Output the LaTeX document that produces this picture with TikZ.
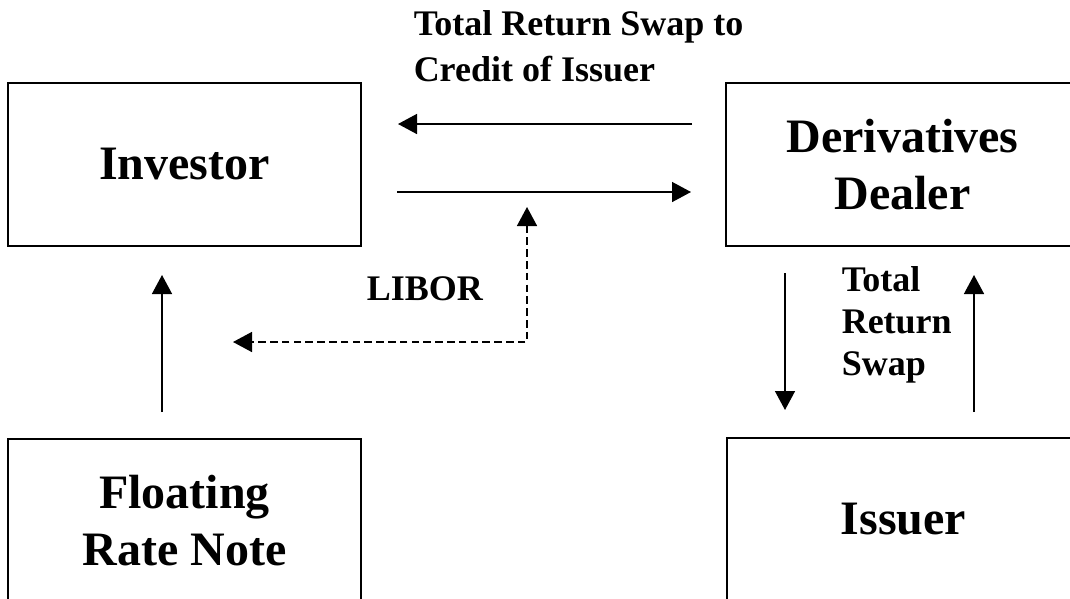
\documentclass[tikz,border=0pt]{standalone}
\usepackage{fontspec}
\setmainfont{Liberation Serif}
\usetikzlibrary{arrows.meta}
\tikzset{party/.style={rectangle,draw,line width=1.5pt,minimum width=353pt,minimum height=163pt,inner sep=0pt,align=center,font=\bfseries\fontsize{48}{57}\selectfont}}
\tikzset{flowlbl/.style={inner sep=0pt,align=left,anchor=base west}}

\begin{document}
\begin{tikzpicture}[x=1pt,y=-1pt,>={Triangle[length=19pt,width=20pt]},line width=1.5pt]
    \clip (0,0) rectangle (1070,598);
    \node[party] (inv) at (184.5,164.5) {Investor};
    \node[party] (dlr) at (902.5,164.5) {Derivatives\\Dealer};
    \node[party] (frn) at (184.5,520.5) {Floating\\Rate Note};
    \node[party] (iss) at (903.5,519.5) {Issuer};

    % base of a multi-line label is its last line
    \node[flowlbl,font=\bfseries\fontsize{36}{46}\selectfont] (trsc) at (413,81) {Total Return Swap to\\Credit of Issuer};
    \node[flowlbl,font=\bfseries\fontsize{36}{42}\selectfont] (trs) at (841,375) {Total\\Return\\Swap};
    \node[flowlbl,font=\bfseries\fontsize{36}{42}\selectfont] (libor) at (366,300) {LIBOR};

    \coordinate (dlrout) at (692,124);
    \coordinate (invin) at (398,124);
    \coordinate (invout) at (397,192);
    \coordinate (dlrin) at (691,192);
    \coordinate (frnout) at (162,412);
    \coordinate (invup) at (162,275);
    \coordinate (dlrdown) at (785,273);
    \coordinate (issin) at (785,410);
    \coordinate (issout) at (974,412);
    \coordinate (dlrup) at (974,275);
    \coordinate (libtop) at (527,207);
    \coordinate (libcorner) at (527,342);
    \coordinate (libleft) at (233,342);

    \draw [->] (dlrout) to [] (invin);
    \draw [->] (invout) to [] (dlrin);
    \draw [->] (frnout) to [] (invup);
    \draw [->] (dlrdown) to [] (issin);
    \draw [->] (issout) to [] (dlrup);
    \draw [<->,dash pattern=on 7.5pt off 4.3pt] (libtop) -- (libcorner) -- (libleft);
\end{tikzpicture}
\end{document}
